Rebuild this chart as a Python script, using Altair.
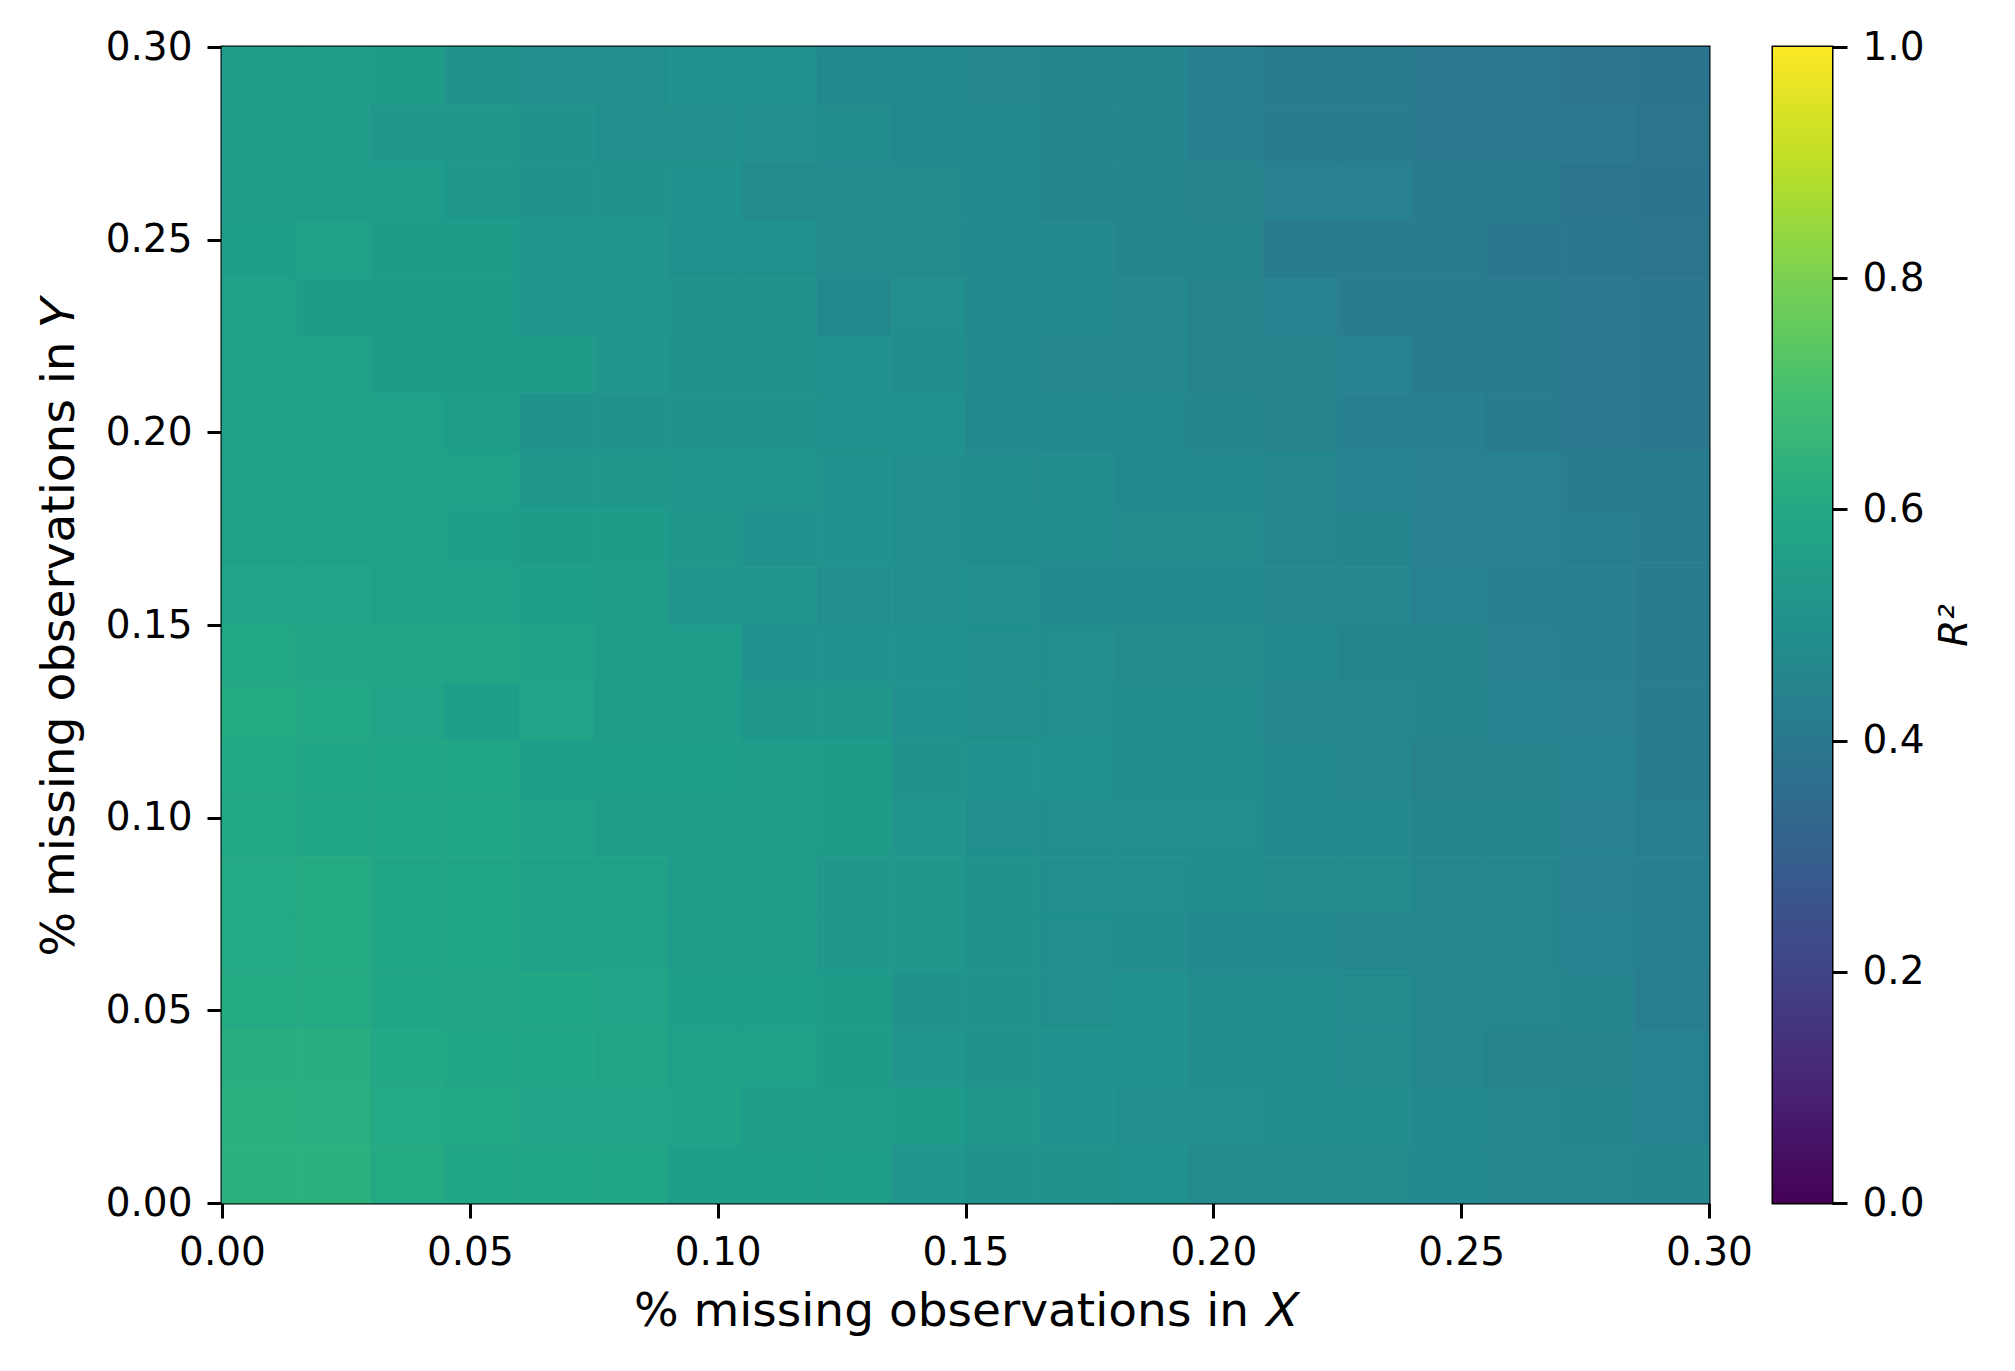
import altair as alt
import pandas as pd

# cell edges (20 x 20 grid of missing-fraction combinations)
x_edges = [0.000, 0.015, 0.030, 0.045, 0.060, 0.075, 0.090, 0.105, 0.120, 0.135, 0.150,
           0.165, 0.180, 0.195, 0.210, 0.225, 0.240, 0.255, 0.270, 0.285, 0.300]
y_edges = [0.000, 0.015, 0.030, 0.045, 0.060, 0.075, 0.090, 0.105, 0.120, 0.135, 0.150,
           0.165, 0.180, 0.195, 0.210, 0.225, 0.240, 0.255, 0.270, 0.285, 0.300]

# R^2 values, rows listed from top (y = 0.285-0.300) to bottom (y = 0.000-0.015)
r2_rows_top_to_bottom = [
    [0.550, 0.550, 0.545, 0.515, 0.495, 0.495, 0.505, 0.505, 0.470, 0.470, 0.460, 0.450, 0.450, 0.425, 0.415, 0.410, 0.405, 0.405, 0.390, 0.385],
    [0.550, 0.550, 0.530, 0.530, 0.510, 0.495, 0.495, 0.495, 0.480, 0.465, 0.470, 0.450, 0.450, 0.425, 0.415, 0.410, 0.405, 0.405, 0.405, 0.390],
    [0.550, 0.550, 0.550, 0.535, 0.510, 0.510, 0.505, 0.475, 0.475, 0.475, 0.470, 0.450, 0.450, 0.445, 0.435, 0.435, 0.415, 0.415, 0.390, 0.385],
    [0.560, 0.565, 0.545, 0.545, 0.520, 0.520, 0.500, 0.500, 0.475, 0.475, 0.470, 0.470, 0.450, 0.450, 0.415, 0.415, 0.415, 0.400, 0.400, 0.390],
    [0.565, 0.545, 0.545, 0.545, 0.520, 0.520, 0.510, 0.510, 0.470, 0.490, 0.470, 0.470, 0.460, 0.445, 0.440, 0.415, 0.415, 0.415, 0.405, 0.395],
    [0.565, 0.565, 0.545, 0.545, 0.545, 0.525, 0.510, 0.510, 0.500, 0.485, 0.470, 0.460, 0.460, 0.445, 0.445, 0.440, 0.415, 0.415, 0.405, 0.395],
    [0.565, 0.565, 0.565, 0.555, 0.515, 0.515, 0.510, 0.510, 0.500, 0.500, 0.470, 0.465, 0.465, 0.450, 0.445, 0.430, 0.430, 0.415, 0.405, 0.395],
    [0.565, 0.565, 0.565, 0.565, 0.535, 0.535, 0.520, 0.520, 0.505, 0.495, 0.480, 0.480, 0.470, 0.470, 0.460, 0.440, 0.435, 0.435, 0.415, 0.410],
    [0.570, 0.570, 0.570, 0.560, 0.545, 0.545, 0.530, 0.505, 0.505, 0.495, 0.485, 0.480, 0.475, 0.475, 0.460, 0.450, 0.435, 0.435, 0.420, 0.410],
    [0.580, 0.580, 0.565, 0.565, 0.560, 0.550, 0.520, 0.520, 0.495, 0.495, 0.495, 0.470, 0.470, 0.470, 0.460, 0.455, 0.440, 0.430, 0.430, 0.415],
    [0.595, 0.585, 0.585, 0.585, 0.570, 0.555, 0.550, 0.505, 0.505, 0.505, 0.495, 0.495, 0.475, 0.475, 0.470, 0.450, 0.450, 0.435, 0.430, 0.415],
    [0.610, 0.595, 0.580, 0.560, 0.580, 0.550, 0.550, 0.530, 0.530, 0.505, 0.495, 0.495, 0.480, 0.480, 0.460, 0.460, 0.450, 0.440, 0.435, 0.415],
    [0.600, 0.590, 0.590, 0.590, 0.560, 0.560, 0.560, 0.550, 0.545, 0.515, 0.505, 0.500, 0.480, 0.485, 0.470, 0.460, 0.445, 0.445, 0.440, 0.415],
    [0.600, 0.590, 0.590, 0.590, 0.565, 0.555, 0.550, 0.550, 0.545, 0.525, 0.495, 0.490, 0.490, 0.490, 0.470, 0.470, 0.450, 0.450, 0.435, 0.420],
    [0.605, 0.610, 0.590, 0.590, 0.570, 0.570, 0.550, 0.550, 0.535, 0.535, 0.510, 0.495, 0.495, 0.485, 0.475, 0.475, 0.455, 0.455, 0.435, 0.430],
    [0.605, 0.610, 0.590, 0.590, 0.570, 0.570, 0.550, 0.550, 0.535, 0.530, 0.510, 0.495, 0.480, 0.470, 0.470, 0.460, 0.455, 0.455, 0.440, 0.430],
    [0.610, 0.610, 0.590, 0.585, 0.590, 0.580, 0.560, 0.560, 0.545, 0.510, 0.510, 0.495, 0.500, 0.480, 0.480, 0.475, 0.460, 0.460, 0.450, 0.420],
    [0.625, 0.625, 0.600, 0.590, 0.590, 0.585, 0.565, 0.565, 0.545, 0.525, 0.510, 0.505, 0.500, 0.480, 0.480, 0.475, 0.460, 0.445, 0.445, 0.440],
    [0.635, 0.630, 0.605, 0.595, 0.580, 0.580, 0.575, 0.550, 0.550, 0.545, 0.530, 0.505, 0.495, 0.490, 0.485, 0.480, 0.470, 0.460, 0.450, 0.440],
    [0.640, 0.640, 0.610, 0.590, 0.590, 0.590, 0.560, 0.560, 0.560, 0.525, 0.515, 0.510, 0.500, 0.475, 0.475, 0.475, 0.470, 0.460, 0.455, 0.450],
]

axis_ticks = [0.00, 0.05, 0.10, 0.15, 0.20, 0.25, 0.30]
cbar_ticks = [0.0, 0.2, 0.4, 0.6, 0.8, 1.0]
cbar_range = [0.0, 1.0]
viridis_stops = ["#440154", "#482475", "#414487", "#355f8d", "#2a788e", "#21918c",
                 "#22a884", "#44bf70", "#7ad151", "#bddf26", "#fde725"]

records = []
n = len(r2_rows_top_to_bottom)
for ri, row in enumerate(r2_rows_top_to_bottom):
    yi = n - 1 - ri
    for xi, v in enumerate(row):
        records.append({"x0": x_edges[xi], "x1": x_edges[xi + 1],
                        "y0": y_edges[yi], "y1": y_edges[yi + 1], "r2": v})
df = pd.DataFrame(records)

FONT = "DejaVu Sans"
color_scale = alt.Scale(scheme="viridis", domain=[0, 1])

main = alt.Chart(df).mark_rect(strokeWidth=0.8).encode(
    x=alt.X("x0:Q", scale=alt.Scale(domain=[0, 0.3], nice=False, zero=False),
            axis=alt.Axis(values=axis_ticks, format=".2f",
                          title="% missing observations in 𝑋", titlePadding=16)),
    x2="x1:Q",
    y=alt.Y("y0:Q", scale=alt.Scale(domain=[0, 0.3], nice=False, zero=False),
            axis=alt.Axis(values=axis_ticks, format=".2f",
                          title="% missing observations in 𝑌", titlePadding=22)),
    y2="y1:Q",
    color=alt.Color("r2:Q", scale=color_scale, legend=None),
    stroke=alt.Stroke("r2:Q", scale=color_scale, legend=None),
).properties(width=1487, height=1156)

cbar_df = pd.DataFrame({"lo": [cbar_range[0]], "hi": [cbar_range[1]]})
grad = alt.Gradient(
    gradient="linear",
    stops=[alt.GradientStop(color=c, offset=i / (len(viridis_stops) - 1))
           for i, c in enumerate(viridis_stops)],
    x1=0, x2=0, y1=1, y2=0,
)
cbar = alt.Chart(cbar_df).mark_rect(color=grad).encode(
    y=alt.Y("lo:Q", scale=alt.Scale(domain=[0, 1], nice=False),
            axis=alt.Axis(orient="right", values=cbar_ticks, format=".1f",
                          title="R²", titleAngle=270, titleFontSize=39,
                          titleFontStyle="italic", titlePadding=50)),
    y2="hi:Q",
    x=alt.value(0),
    x2=alt.value(59),
).properties(width=59, height=1156)

chart = alt.hconcat(main, cbar, spacing=64, bounds="flush").properties(
    padding={"left": 25, "top": 18, "right": 10, "bottom": 10}
).configure_view(
    stroke="black", strokeWidth=3
).configure_axis(
    domain=False, grid=False,
    tickColor="black", tickWidth=3, tickSize=15,
    labelFont=FONT, labelFontSize=39, labelColor="black", labelPadding=15,
    labelFlush=False, labelOverlap=False, labelBound=False,
    titleFont=FONT, titleFontSize=47, titleFontWeight="normal", titleColor="black",
)

chart.save("out.html", embed_options={"renderer": "svg", "actions": False})
